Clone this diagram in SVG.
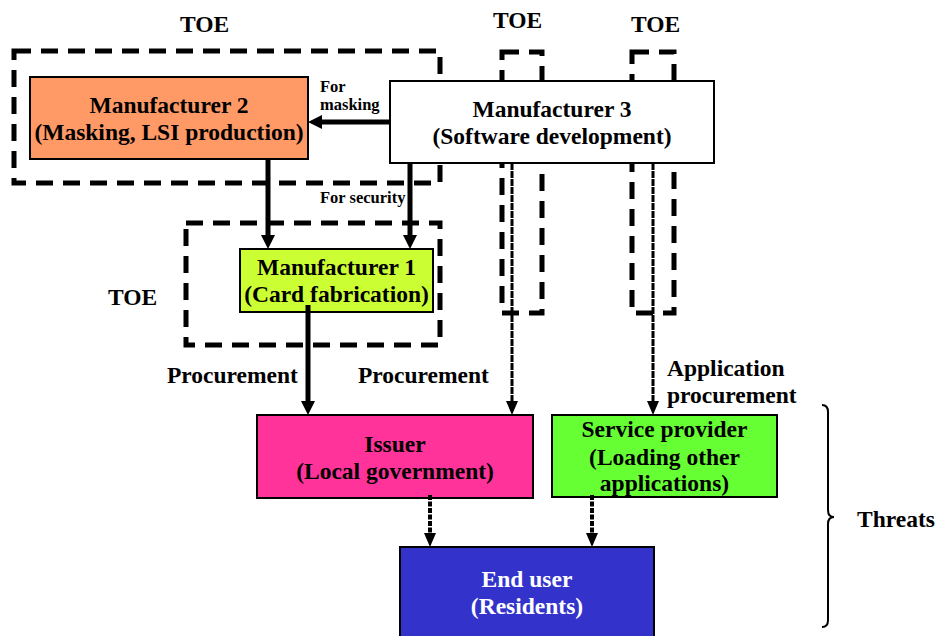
<svg xmlns="http://www.w3.org/2000/svg" width="938" height="636" viewBox="0 0 938 636">
  <defs>
    <style>
      .lbl { font-size: 23.5px; font-weight: bold; }
      .mid { text-anchor: middle; }
      .small { font-size: 16.5px; font-weight: bold; }
      .toe { fill: none; stroke: #000; stroke-width: 5; stroke-dasharray: 17 10; }
      .node { stroke: #000; stroke-width: 2; }
      .thick { stroke: #000; stroke-width: 5; fill: none; marker-end: url(#headBig); }
      .dotted { stroke: #000; stroke-width: 3; fill: none; stroke-dasharray: 7 1; marker-end: url(#headSmall); }
      .dashed { stroke: #000; stroke-width: 4; fill: none; stroke-dasharray: 5 1.5; marker-end: url(#headSmall); }
    </style>
    <marker id="headBig" markerUnits="userSpaceOnUse" markerWidth="14" markerHeight="14" refX="2" refY="7" orient="auto">
      <path d="M0,0 L14,7 L0,14 z" fill="#000"/>
    </marker>
    <marker id="headSmall" markerUnits="userSpaceOnUse" markerWidth="14" markerHeight="12" refX="2" refY="6" orient="auto">
      <path d="M0,0 L14,6 L0,12 z" fill="#000"/>
    </marker>
  </defs>

  <rect width="938" height="636" fill="#fff"/>

  <g font-family="'Liberation Serif', 'Times New Roman', serif" fill="#000">

  <!-- TOE boundaries -->
  <g id="toe-boundaries">
    <rect class="toe" x="14" y="51" width="426" height="132"/>
    <rect class="toe" x="186" y="223" width="254" height="122"/>
    <rect class="toe" x="502" y="52" width="40" height="261"/>
    <rect class="toe" x="632" y="52" width="42" height="261"/>
    <text class="lbl" x="180" y="32">TOE</text>
    <text class="lbl" x="493" y="28">TOE</text>
    <text class="lbl" x="631" y="32">TOE</text>
    <text class="lbl" x="108" y="305">TOE</text>
  </g>

  <!-- Nodes -->
  <g id="manufacturer2">
    <rect class="node" x="30" y="77" width="278" height="82" fill="#FF9966"/>
    <text class="lbl mid" x="169" y="113">Manufacturer 2</text>
    <text class="lbl mid" x="169" y="140">(Masking, LSI production)</text>
  </g>

  <g id="manufacturer3">
    <rect class="node" x="390" y="81" width="324" height="82" fill="#fff"/>
    <text class="lbl mid" x="552" y="117">Manufacturer 3</text>
    <text class="lbl mid" x="552" y="144">(Software development)</text>
  </g>

  <g id="manufacturer1">
    <rect class="node" x="240" y="249" width="193" height="63" fill="#CCFF33"/>
    <text class="lbl mid" x="336.5" y="275">Manufacturer 1</text>
    <text class="lbl mid" x="336.5" y="302">(Card fabrication)</text>
  </g>

  <g id="issuer">
    <rect class="node" x="257" y="415" width="276" height="83" fill="#FF3399"/>
    <text class="lbl mid" x="395" y="452">Issuer</text>
    <text class="lbl mid" x="395" y="479">(Local government)</text>
  </g>

  <g id="service-provider">
    <rect class="node" x="552" y="415" width="225" height="82" fill="#66FF33"/>
    <text class="lbl mid" x="664.5" y="437">Service provider</text>
    <text class="lbl mid" x="664.5" y="465">(Loading other</text>
    <text class="lbl mid" x="664.5" y="491">applications)</text>
  </g>

  <g id="end-user">
    <rect class="node" x="400" y="547" width="254" height="96" fill="#3333CC"/>
    <text class="lbl mid" x="527" y="587" fill="#fff">End user</text>
    <text class="lbl mid" x="527" y="614" fill="#fff">(Residents)</text>
  </g>

  <!-- Connectors -->
  <g id="connectors">
    <line class="thick" x1="390" y1="122" x2="320" y2="122"/>
    <line class="thick" x1="268" y1="159" x2="268" y2="237"/>
    <line class="thick" x1="410" y1="163" x2="410" y2="237"/>
    <line class="thick" x1="308" y1="305" x2="308" y2="403"/>
    <line class="dotted" x1="512" y1="163" x2="512" y2="403"/>
    <line class="dotted" x1="653" y1="163" x2="653" y2="403"/>
    <line class="dashed" x1="430" y1="495" x2="430" y2="535"/>
    <line class="dashed" x1="592" y1="495" x2="592" y2="535"/>
  </g>

  <!-- Connector labels -->
  <g id="connector-labels">
    <text class="small" x="320" y="92">For</text>
    <text class="small" x="320" y="110">masking</text>
    <text class="small" x="320" y="203">For security</text>
    <text class="lbl" x="167" y="383">Procurement</text>
    <text class="lbl" x="358" y="383">Procurement</text>
    <text class="lbl" x="667" y="376">Application</text>
    <text class="lbl" x="667" y="403">procurement</text>
  </g>

  <!-- Threats brace -->
  <g id="threats">
    <path d="M822,405 Q828,405 828,412 L828,510 Q828,517 834,517 Q828,517 828,524 L828,620 Q828,627 822,627" fill="none" stroke="#000" stroke-width="2"/>
    <text class="lbl" x="857" y="527">Threats</text>
  </g>

  </g>
</svg>
